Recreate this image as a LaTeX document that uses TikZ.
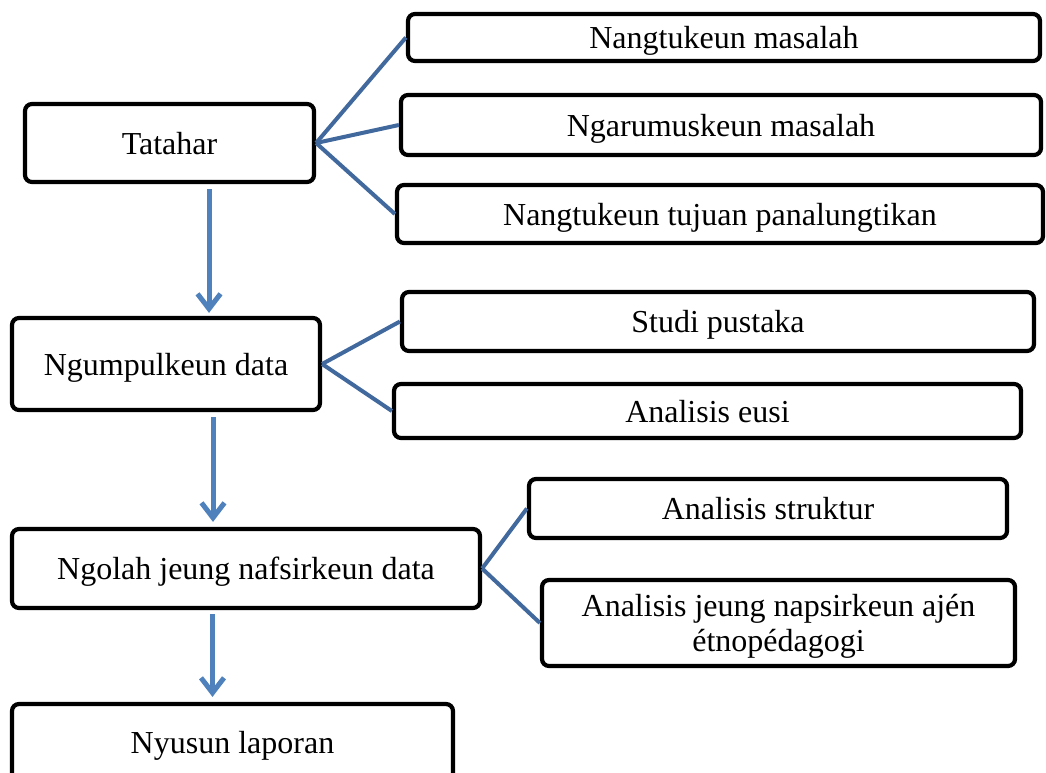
\documentclass[tikz,border=0pt]{standalone}
\usepackage{fontspec}
\setmainfont{Liberation Serif}
\usetikzlibrary{arrows.meta}
\definecolor{arrowblue}{HTML}{4F81BD}
\definecolor{fanblue}{HTML}{41699E}
\begin{document}
\begin{tikzpicture}[x=1pt,y=-1pt,
  box/.style={draw=black, line width=4.2pt, rounded corners=7pt, fill=white,
    inner sep=0pt, align=center, text height=30pt, text depth=8pt,
    font=\fontsize{32}{35}\selectfont},
  varrow/.style={draw=arrowblue, line width=5pt, -{Straight Barb[length=15pt,width=23pt]}},
  fan/.style={draw=fanblue, line width=4pt}]
\useasboundingbox (0,0) rectangle (1046,773);
\clip (0,0) rectangle (1046,773);

\node[box, minimum width=289pt, minimum height=78pt] (tatahar) at (169.5,143) {Tatahar};
\node[box, minimum width=632pt, minimum height=47pt] (nm) at (724,37.5) {Nangtukeun masalah};
\node[box, minimum width=640pt, minimum height=60pt] (nr) at (721,125) {Ngarumuskeun masalah};
\node[box, minimum width=646pt, minimum height=58pt] (nt) at (720,214) {Nangtukeun tujuan panalungtikan};

\node[box, minimum width=308pt, minimum height=92pt] (ngump) at (166,364) {Ngumpulkeun data};
\node[box, minimum width=632pt, minimum height=59pt] (sp) at (718,321.5) {Studi pustaka};
\node[box, minimum width=627pt, minimum height=54pt] (ae) at (707.5,411) {Analisis eusi};

\node[box, minimum width=468pt, minimum height=79pt] (ngolah) at (246,568.5) {Ngolah jeung nafsirkeun data};
\node[box, minimum width=478pt, minimum height=59pt] (as) at (768,508.5) {Analisis struktur};
\node[box, minimum width=473pt, minimum height=86pt, text height=65pt] (aj) at (778.5,623) {Analisis jeung napsirkeun ajén\\étnopédagogi};

\node[box, minimum width=441pt, minimum height=76pt] (nyusun) at (232.5,742) {Nyusun laporan};

\draw[fan] (tatahar.east) -- (nm.west);
\draw[fan] (tatahar.east) -- (nr.west);
\draw[fan] (tatahar.east) -- (nt.west);
\draw[fan] (ngump.east) -- (sp.west);
\draw[fan] (ngump.east) -- (ae.west);
\draw[fan] (ngolah.east) -- (as.west);
\draw[fan] (ngolah.east) -- (aj.west);

\draw[varrow] ([xshift=39.5pt,yshift=-5pt]tatahar.south) -- ([xshift=43pt,yshift=3pt]ngump.north);
\draw[varrow] ([xshift=47pt,yshift=-5pt]ngump.south) -- ([xshift=-33pt,yshift=5pt]ngolah.north);
\draw[varrow] ([xshift=-33.5pt,yshift=-4pt]ngolah.south) -- ([xshift=-20pt,yshift=5pt]nyusun.north);
\end{tikzpicture}
\end{document}
